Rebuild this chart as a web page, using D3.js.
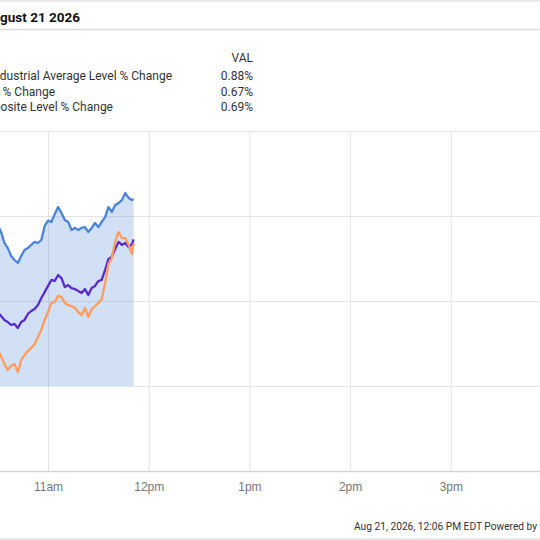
<!DOCTYPE html>
<html lang="en">
<head>
<meta charset="utf-8">
<script src="https://cdnjs.cloudflare.com/ajax/libs/d3/7.8.5/d3.min.js"></script>
<style>
    body { margin: 0; background: #fff; }
    svg { display: block; font-family: Roboto, 'Noto Sans', sans-serif; }
    .grid line { stroke: #e4e4e4; }
    .grid path { display: none; }
    .xaxis path, .xaxis line { display: none; }
    .xaxis text { fill: #777; font-size: 12px; }
</style>
</head>
<body>
<svg></svg>
<script>
const times = ["10:30","10:32","10:34","10:36","10:38","10:40","10:42","10:44","10:46","10:48",
    "10:50","10:52","10:54","10:56","10:58","11:00","11:02","11:04","11:06","11:08",
    "11:10","11:12","11:14","11:16","11:18","11:20","11:22","11:24","11:26","11:28",
    "11:30","11:32","11:34","11:36","11:38","11:40","11:42","11:44","11:46","11:48",
    "11:50","11:51"]
const djia = [0.758,0.725,0.673,0.649,0.612,0.593,0.579,0.612,0.640,0.649,
    0.664,0.678,0.673,0.687,0.753,0.778,0.772,0.809,0.842,0.814,
    0.781,0.772,0.734,0.744,0.734,0.744,0.748,0.725,0.744,0.767,
    0.748,0.772,0.795,0.842,0.819,0.852,0.861,0.875,0.908,0.885,
    0.875,0.88]
const sp500 = [0.169,0.141,0.104,0.075,0.094,0.104,0.066,0.122,0.146,0.165,
    0.179,0.198,0.231,0.264,0.311,0.348,0.391,0.395,0.424,0.419,
    0.391,0.381,0.376,0.367,0.348,0.334,0.367,0.325,0.362,0.376,
    0.391,0.409,0.485,0.574,0.602,0.678,0.725,0.696,0.696,0.664,
    0.621,0.67]
const nasdaq = [0.348,0.329,0.311,0.301,0.287,0.292,0.273,0.301,0.311,0.339,
    0.353,0.362,0.381,0.414,0.442,0.471,0.499,0.494,0.522,0.508,
    0.466,0.475,0.461,0.456,0.447,0.438,0.456,0.428,0.461,0.471,
    0.494,0.499,0.546,0.598,0.607,0.645,0.678,0.664,0.673,0.654,
    0.668,0.69]

const seriesNames = ["Dow Jones Industrial Average Level % Change", "S&P 500 Level % Change", "NASDAQ Composite Level % Change"]
const lastVals = ["0.88%", "0.67%", "0.69%"]
const colors = ["#4a84d8", "#ff9c5c", "#5a2bcc"]

const hourTicks = ["10:00","11:00","12:00","13:00","14:00","15:00","16:00"]
const hourLabels = ["10am","11am","12pm","1pm","2pm","3pm","4pm"]
const yTicks = [-0.4, 0, 0.4, 0.8, 1.2]

const w = 540, h = 540
const parse = d3.timeParse("%H:%M")

const svg = d3.select('svg').attr('width', w).attr('height', h)

// the view is scrolled: plot starts left of the window
const x = d3.scaleTime()
    .domain([parse("09:30"), parse("16:00")])
    .range([-103, 551.5])
const y = d3.scaleLinear()
    .domain([-0.4, 1.2])
    .range([471, 131])

// frame lines
svg.append('line').attr('x1', 0).attr('x2', w).attr('y1', 1).attr('y2', 1)
    .attr('stroke', '#e2e2e2').attr('stroke-width', 1.5)
svg.append('line').attr('x1', 0).attr('x2', w).attr('y1', 29.5).attr('y2', 29.5)
    .attr('stroke', '#dcdcdc').attr('stroke-width', 1.5)
svg.append('line').attr('x1', 0).attr('x2', w).attr('y1', 539).attr('y2', 539)
    .attr('stroke', '#e2e2e2').attr('stroke-width', 1.5)

svg.append('text')
    .attr('x', 80).attr('y', 22)
    .attr('text-anchor', 'end')
    .attr('font-size', 13.5).attr('font-weight', 'bold').attr('fill', '#111')
    .text('August 21 2026')

// legend (name column is scrolled out on the left)
const rowEnds = [172, 55, 113]
const leg = svg.append('g')
leg.append('text').attr('x', 253).attr('y', 62).attr('text-anchor', 'end')
    .attr('font-size', 12).attr('fill', '#333').text('VAL')
leg.selectAll('.row').data(seriesNames).enter().append('text')
    .attr('class', 'row')
    .attr('x', (d, i) => rowEnds[i])
    .attr('y', (d, i) => 80 + i * 15.5)
    .attr('text-anchor', 'end')
    .attr('font-size', 12).attr('fill', '#333')
    .text(d => d)
leg.selectAll('.val').data(lastVals).enter().append('text')
    .attr('x', 253).attr('y', (d, i) => 80 + i * 15.5)
    .attr('text-anchor', 'end')
    .attr('font-size', 12).attr('fill', '#333')
    .text(d => d)

// grid
svg.append('g').attr('class', 'grid')
    .attr('transform', 'translate(0,471)')
    .call(d3.axisBottom(x).tickValues(hourTicks.map(parse)).tickSize(-(471 - 131)).tickFormat(''))
svg.append('g').attr('class', 'grid')
    .attr('transform', 'translate(-103,0)')
    .call(d3.axisLeft(y).tickValues(yTicks).tickSize(-(551.5 + 103)).tickFormat(''))
svg.append('line').attr('x1', 0).attr('x2', w).attr('y1', y(-0.4) + 0.5).attr('y2', y(-0.4) + 0.5)
    .attr('stroke', '#d4d4d4').attr('stroke-width', 1.5)

// area under the Dow line
const pts = times.map(parse)
const area = d3.area()
    .x((d, i) => x(pts[i]))
    .y0(y(0))
    .y1(d => y(d))
svg.append('path').datum(djia)
    .attr('d', area)
    .attr('fill', colors[0]).attr('fill-opacity', 0.25)

const line = d3.line()
    .x((d, i) => x(pts[i]))
    .y(d => y(d))
const allSeries = [djia, sp500, nasdaq]
svg.selectAll('.series').data([allSeries[0], allSeries[2], allSeries[1]]).enter().append('path')
    .attr('class', 'series')
    .attr('d', line)
    .attr('fill', 'none')
    .attr('stroke', d => colors[allSeries.indexOf(d)])
    .attr('stroke-width', 2.3)
    .attr('stroke-linejoin', 'round')

// x axis labels
svg.append('g').attr('class', 'xaxis')
    .attr('transform', 'translate(0,479)')
    .call(d3.axisBottom(x).tickValues(hourTicks.map(parse)).tickSize(0)
        .tickFormat((d, i) => hourLabels[i]))

svg.append('text')
    .attr('x', 354).attr('y', 530)
    .attr('font-size', 10.2).attr('fill', '#333')
    .text('Aug 21, 2026, 12:06 PM EDT Powered by YCharts')
</script>
</body>
</html>
